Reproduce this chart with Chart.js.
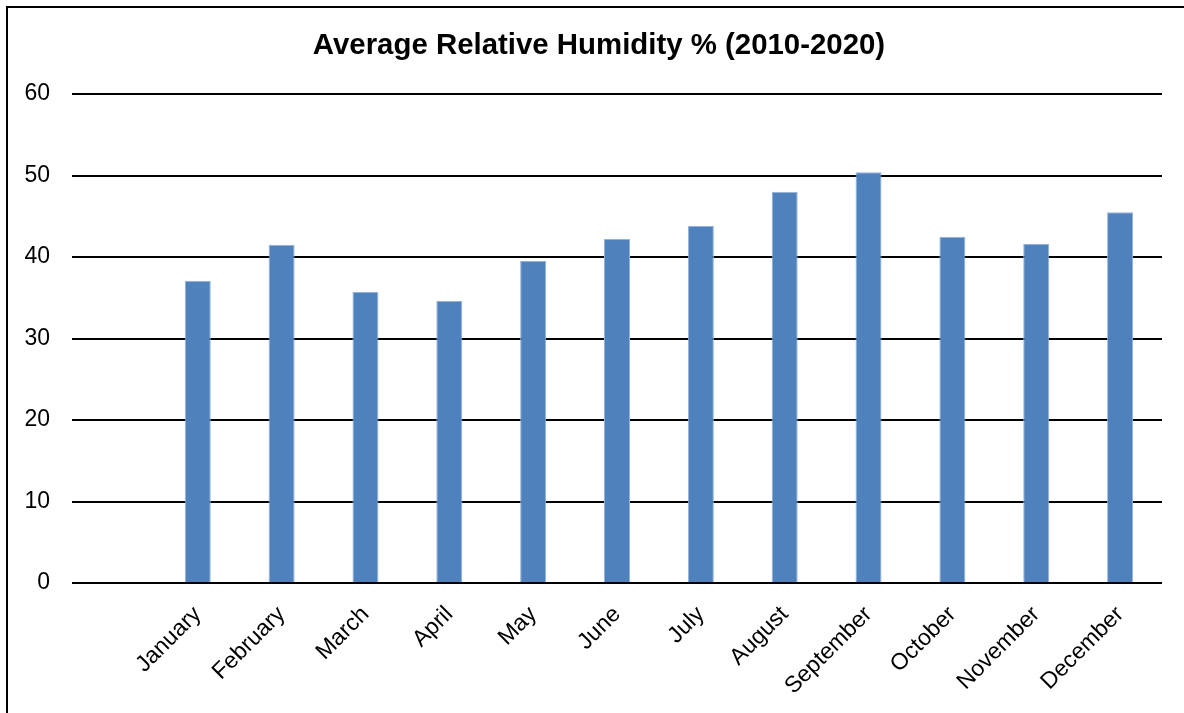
<!DOCTYPE html>
<html>
<head>
<meta charset="utf-8">
<script src="https://cdn.jsdelivr.net/npm/chart.js@4/dist/chart.umd.min.js"></script>
<style>
  html, body { margin: 0; padding: 0; background: #fff; overflow: hidden; }
  #wrap { position: relative; width: 1184px; height: 713px; }
  #frame { position: absolute; left: 6px; top: 6px; width: 1300px; height: 900px;
           border-left: 2px solid #000; border-top: 2px solid #000; box-sizing: border-box; }
  #chart { position: absolute; left: 0; top: 0; }
</style>
</head>
<body>
<div id="wrap">
  <div id="frame"></div>
  <canvas id="chart" width="1184" height="713"></canvas>
</div>
<script>
// Monthly average relative humidity, 2010-2020 (first slot left blank)
const categories = ['', 'January', 'February', 'March', 'April', 'May', 'June',
                    'July', 'August', 'September', 'October', 'November', 'December'];
const humidity = [null, 37.1, 41.5, 35.7, 34.6, 39.5, 42.2, 43.8, 48.0, 50.4, 42.5, 41.6, 45.5];
const yTicks = [0, 10, 20, 30, 40, 50, 60];
const chartTitle = 'Average Relative Humidity % (2010-2020)';

const FONT = "'Liberation Sans', Arial, sans-serif";

// Title drawn centred over the whole frame rather than the layout box
const frameTitle = {
  id: 'frameTitle',
  afterDraw(chart) {
    const ctx = chart.ctx;
    ctx.save();
    ctx.font = `bold 29.4px ${FONT}`;
    ctx.fillStyle = '#000';
    ctx.textAlign = 'center';
    ctx.textBaseline = 'middle';
    ctx.fillText(chartTitle, 599, 46);
    ctx.restore();
  }
};

new Chart(document.getElementById('chart'), {
  type: 'bar',
  data: {
    labels: categories,
    datasets: [{
      data: humidity,
      backgroundColor: '#4F81BD',
      borderColor: '#93B1DA',
      borderWidth: { left: 1, right: 1, top: 1, bottom: 0 },
      categoryPercentage: 1,
      barPercentage: 0.31
    }]
  },
  plugins: [frameTitle],
  options: {
    responsive: false,
    animation: false,
    layout: { padding: { left: 0, right: 22, top: 94, bottom: 0 } },
    plugins: {
      legend: { display: false },
      tooltip: { enabled: false },
      title: { display: false }
    },
    scales: {
      x: {
        grid: { display: false },
        border: { display: false },
        ticks: {
          color: '#000',
          font: { family: FONT, size: 23 },
          minRotation: 45,
          maxRotation: 45,
          autoSkip: false,
          padding: 10
        },
        afterFit(scale) { scale.height = 713 - 583; }
      },
      y: {
        min: 0,
        max: 60,
        afterBuildTicks(scale) { scale.ticks = yTicks.map(v => ({ value: v })); },
        grid: { color: '#000', lineWidth: 2, drawTicks: false },
        border: { display: false },
        ticks: {
          color: '#000',
          font: { family: FONT, size: 23 },
          padding: 22
        },
        afterFit(scale) { scale.width = 72; }
      }
    }
  }
});
</script>
</body>
</html>
